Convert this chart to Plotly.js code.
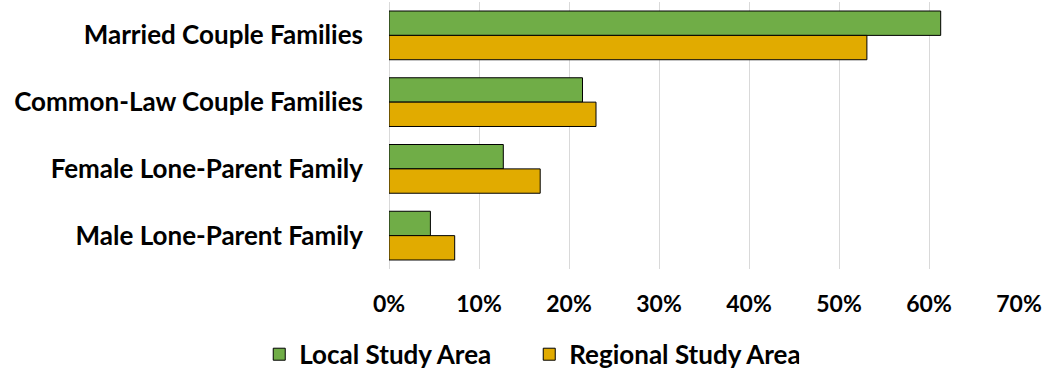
<!DOCTYPE html>
<html>
<head>
<meta charset="utf-8">
<script src="https://cdn.plot.ly/plotly-3.0.1.min.js"></script>
<style>
  html, body { margin: 0; padding: 0; background: #fff; }
  #chart { width: 1048px; height: 371px; }
</style>
</head>
<body>
<div id="chart"></div>
<script>
// Family structure shares (%)
const categories = [
  'Married Couple Families',
  'Common-Law Couple Families',
  'Female Lone-Parent Family',
  'Male Lone-Parent Family'
];
const localStudyArea = [61.3, 21.5, 12.7, 4.6];
const regionalStudyArea = [53.1, 23.0, 16.8, 7.3];
const seriesNames = ['Local Study Area', 'Regional Study Area'];
const xTicks = [0, 10, 20, 30, 40, 50, 60, 70];

const FONT = 'Lato, "Open Sans", sans-serif';

const traces = [
  {
    type: 'bar', orientation: 'h',
    name: seriesNames[0],
    y: categories, x: localStudyArea,
    marker: { color: '#70AD47', line: { color: '#000000', width: 1 } },
    hoverinfo: 'x+name'
  },
  {
    type: 'bar', orientation: 'h',
    name: seriesNames[1],
    y: categories, x: regionalStudyArea,
    marker: { color: '#E1AB00', line: { color: '#000000', width: 1 } },
    hoverinfo: 'x+name'
  }
];

const layout = {
  width: 1048, height: 371,
  margin: { l: 389, r: 29, t: 2, b: 102 },
  paper_bgcolor: '#ffffff', plot_bgcolor: '#ffffff',
  barmode: 'group',
  bargap: 0.27,
  bargroupgap: 0,
  font: { family: FONT, size: 26, color: '#000000', weight: 'bold' },
  showlegend: true,
  legend: {
    orientation: 'h',
    xref: 'container', yref: 'container',
    x: 0.505, xanchor: 'center',
    y: 0.045, yanchor: 'middle',
    font: { family: FONT, size: 26, color: '#000000', weight: 'bold' },
    itemwidth: 30,
    entrywidth: 225,
    traceorder: 'normal'
  },
  xaxis: {
    range: [0, 70],
    tickvals: xTicks,
    ticktext: xTicks.map(v => v + '%'),
    showgrid: true, gridcolor: '#D9D9D9', gridwidth: 1,
    zeroline: true, zerolinecolor: '#D9D9D9', zerolinewidth: 1,
    showline: false,
    ticks: '',
    ticklabelstandoff: 19,
    tickfont: { family: FONT, size: 23, color: '#000000', weight: 'bold' },
    fixedrange: true
  },
  yaxis: {
    type: 'category',
    autorange: 'reversed',
    showgrid: false, zeroline: false, showline: false,
    ticks: '',
    ticklabelstandoff: 25,
    tickfont: { family: FONT, size: 26, color: '#000000', weight: 'bold' },
    fixedrange: true
  }
};

Plotly.newPlot('chart', traces, layout, { displayModeBar: false, staticPlot: true });
</script>
</body>
</html>
